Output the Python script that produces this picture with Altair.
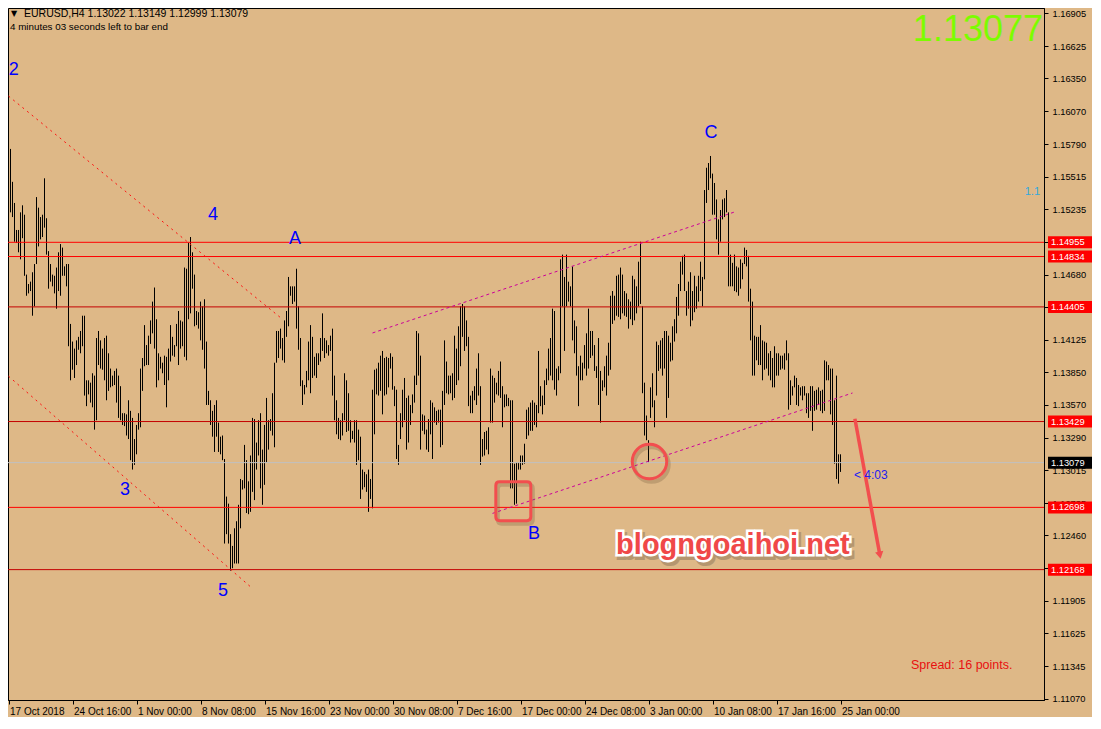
import altair as alt
import pandas as pd

# ---------------- data (EURUSD H4) ----------------
HIGHS = [
    1.1578, 1.1575, 1.1547, 1.1529, 1.1506, 1.1506, 1.1521, 1.1527, 1.1519, 1.1468,
    1.1460, 1.1462, 1.1470, 1.1477, 1.1534, 1.1525, 1.1517, 1.1519, 1.1550, 1.1516,
    1.1488, 1.1477, 1.1468, 1.1467, 1.1474, 1.1487, 1.1494, 1.1491, 1.1475, 1.1477,
    1.1477, 1.1426, 1.1411, 1.1405, 1.1412, 1.1415, 1.1420, 1.1433, 1.1433, 1.1378,
    1.1378, 1.1376, 1.1384, 1.1382, 1.1414, 1.1420, 1.1412, 1.1405, 1.1414, 1.1416,
    1.1401, 1.1388, 1.1382, 1.1386, 1.1388, 1.1382, 1.1373, 1.1350, 1.1350, 1.1349,
    1.1361, 1.1352, 1.1346, 1.1328, 1.1340, 1.1350, 1.1388, 1.1397, 1.1425, 1.1408,
    1.1416, 1.1429, 1.1445, 1.1457, 1.1430, 1.1401, 1.1398, 1.1393, 1.1399, 1.1398,
    1.1405, 1.1425,
    1.1415, 1.1408, 1.1426, 1.1437, 1.1429, 1.1428, 1.1474, 1.1473,
    1.1495, 1.1500, 1.1487, 1.1468, 1.1437, 1.1436, 1.1445, 1.1441, 1.1447, 1.1411,
    1.1369, 1.1361, 1.1352, 1.1357, 1.1361, 1.1342, 1.1330, 1.1331, 1.1311, 1.1279,
    1.1273, 1.1247, 1.1237, 1.1252, 1.1258, 1.1272, 1.1294, 1.1293, 1.1323, 1.1310,
    1.1292, 1.1314, 1.1346, 1.1345, 1.1325, 1.1344, 1.1350, 1.1319, 1.1340, 1.1363,
    1.1344, 1.1345, 1.1367, 1.1393, 1.1420, 1.1420, 1.1422, 1.1414, 1.1429, 1.1437,
    1.1466, 1.1458, 1.1458, 1.1458, 1.1473, 1.1441, 1.1414, 1.1378, 1.1374, 1.1386,
    1.1411, 1.1425, 1.1415, 1.1398, 1.1401, 1.1401, 1.1414, 1.1435, 1.1414, 1.1412,
    1.1408, 1.1416, 1.1422,
    1.1382, 1.1361, 1.1346, 1.1344, 1.1350, 1.1384, 1.1378,
    1.1367, 1.1344, 1.1335, 1.1344, 1.1344, 1.1336, 1.1330, 1.1302, 1.1300, 1.1298,
    1.1302, 1.1294, 1.1370, 1.1387, 1.1388, 1.1393, 1.1399, 1.1403, 1.1397, 1.1398,
    1.1397, 1.1401, 1.1398, 1.1373, 1.1370, 1.1323, 1.1350, 1.1370, 1.1380, 1.1363,
    1.1365, 1.1357, 1.1366, 1.1382, 1.1420, 1.1418, 1.1399, 1.1349, 1.1348, 1.1336,
    1.1345, 1.1361, 1.1359, 1.1355, 1.1352, 1.1353, 1.1353, 1.1369, 1.1412, 1.1394,
    1.1382, 1.1382, 1.1384, 1.1416, 1.1405, 1.1424, 1.1441, 1.1443, 1.1441, 1.1429,
    1.1415, 1.1365, 1.1369, 1.1373, 1.1388, 1.1401, 1.1373, 1.1328, 1.1334, 1.1335,
    1.1338, 1.1388, 1.1382, 1.1380, 1.1376, 1.1386, 1.1394,
    1.1373, 1.1366, 1.1366,
    1.1363, 1.1361, 1.1361, 1.1307, 1.1308, 1.1308, 1.1314, 1.1314, 1.1324, 1.1353,
    1.1355, 1.1359, 1.1361, 1.1359, 1.1357, 1.1403, 1.1373, 1.1365, 1.1378, 1.1388,
    1.1405, 1.1414, 1.1439, 1.1437, 1.1388, 1.1390, 1.1481, 1.1485, 1.1466, 1.1485,
    1.1462, 1.1458, 1.1475, 1.1429, 1.1424, 1.1390, 1.1399, 1.1393, 1.1408, 1.1418,
    1.1439, 1.1420, 1.1420, 1.1408, 1.1390, 1.1414, 1.1386, 1.1378, 1.1390, 1.1399,
    1.1410, 1.1450, 1.1454, 1.1450, 1.1467, 1.1468, 1.1474, 1.1468, 1.1454, 1.1452,
    1.1447, 1.1445, 1.1467, 1.1464, 1.1458, 1.1479, 1.1496, 1.1441, 1.1376, 1.1348,
    1.1327, 1.1372, 1.1384, 1.1361, 1.1411, 1.1408, 1.1412, 1.1414, 1.1420,
    1.1420, 1.1416, 1.1410, 1.1424, 1.1430, 1.1449, 1.1460, 1.1479, 1.1484, 1.1485, 1.1454,
    1.1462, 1.1470, 1.1454, 1.1467, 1.1458, 1.1467, 1.1479, 1.1466, 1.1540, 1.1559,
    1.1563, 1.1569, 1.1554, 1.1546, 1.1532, 1.1515, 1.1523, 1.1532, 1.1533, 1.1540,
    1.1521, 1.1485, 1.1478, 1.1485, 1.1475, 1.1474, 1.1481, 1.1478, 1.1491, 1.1489,
    1.1484, 1.1456, 1.1445, 1.1416, 1.1415, 1.1415, 1.1425, 1.1412, 1.1411, 1.1410,
    1.1401, 1.1403, 1.1397, 1.1407, 1.1401, 1.1401, 1.1399, 1.1399, 1.1401, 1.1412,
    1.1401, 1.1378, 1.1373, 1.1382, 1.1380, 1.1374, 1.1372, 1.1373, 1.1373, 1.1367,
    1.1367, 1.1373, 1.1373, 1.1369, 1.1370, 1.1372, 1.1369, 1.1370, 1.1395, 1.1394,
    1.1391, 1.1388, 1.1388, 1.1361, 1.1382, 1.1315, 1.1315,
]

LOWS = [
    1.1548, 1.1521, 1.1517, 1.1496, 1.1495, 1.1487, 1.1481, 1.1499, 1.1467, 1.1450,
    1.1452, 1.1454, 1.1433, 1.1441, 1.1477, 1.1492, 1.1498, 1.1500, 1.1508, 1.1485,
    1.1456, 1.1462, 1.1458, 1.1452, 1.1439, 1.1454, 1.1450, 1.1467, 1.1467, 1.1458,
    1.1407, 1.1378, 1.1387, 1.1380, 1.1391, 1.1404, 1.1401, 1.1407, 1.1365, 1.1356,
    1.1366, 1.1359, 1.1355, 1.1336, 1.1344, 1.1391, 1.1388, 1.1387, 1.1378, 1.1361,
    1.1369, 1.1372, 1.1373, 1.1374, 1.1359, 1.1346, 1.1344, 1.1340, 1.1339, 1.1331,
    1.1328, 1.1310, 1.1302, 1.1306, 1.1315, 1.1336, 1.1338, 1.1369, 1.1390, 1.1391,
    1.1391, 1.1409, 1.1418, 1.1405, 1.1372, 1.1378, 1.1388, 1.1384, 1.1374, 1.1355,
    1.1378, 1.1394,
    1.1399, 1.1398, 1.1407, 1.1391, 1.1405, 1.1407, 1.1398, 1.1395,
    1.1430, 1.1435, 1.1456, 1.1424, 1.1425, 1.1422, 1.1412, 1.1404, 1.1388, 1.1357,
    1.1357, 1.1340, 1.1330, 1.1317, 1.1330, 1.1317, 1.1315, 1.1310, 1.1239, 1.1247,
    1.1239, 1.1216, 1.1218, 1.1222, 1.1222, 1.1222, 1.1252, 1.1285, 1.1286, 1.1265,
    1.1264, 1.1266, 1.1283, 1.1276, 1.1302, 1.1314, 1.1286, 1.1272, 1.1289, 1.1308,
    1.1319, 1.1335, 1.1331, 1.1321, 1.1393, 1.1397, 1.1405, 1.1395, 1.1393, 1.1415,
    1.1424, 1.1450, 1.1443, 1.1445, 1.1422, 1.1404, 1.1373, 1.1357, 1.1366, 1.1372,
    1.1378, 1.1367, 1.1380, 1.1382, 1.1380, 1.1391, 1.1394, 1.1403, 1.1397, 1.1401,
    1.1399, 1.1403, 1.1365,
    1.1344, 1.1332, 1.1328, 1.1327, 1.1331, 1.1344, 1.1334,
    1.1335, 1.1325, 1.1328, 1.1325, 1.1306, 1.1310, 1.1277, 1.1285, 1.1287, 1.1283,
    1.1266, 1.1277, 1.1269, 1.1332, 1.1366, 1.1365, 1.1369, 1.1349, 1.1365, 1.1366,
    1.1372, 1.1388, 1.1370, 1.1356, 1.1311, 1.1306, 1.1328, 1.1338, 1.1344, 1.1319,
    1.1325, 1.1340, 1.1350, 1.1359, 1.1374, 1.1382, 1.1319, 1.1335, 1.1332, 1.1319,
    1.1317, 1.1332, 1.1311, 1.1342, 1.1340, 1.1342, 1.1321, 1.1323, 1.1357, 1.1367,
    1.1366, 1.1367, 1.1361, 1.1363, 1.1374, 1.1378, 1.1390, 1.1415, 1.1403, 1.1407,
    1.1356, 1.1350, 1.1350, 1.1361, 1.1357, 1.1365, 1.1306, 1.1313, 1.1314, 1.1319,
    1.1315, 1.1342, 1.1342, 1.1359, 1.1366, 1.1365, 1.1363,
    1.1338, 1.1355, 1.1356,
    1.1356, 1.1286, 1.1286, 1.1272, 1.1273, 1.1302, 1.1302, 1.1306, 1.1307, 1.1328,
    1.1331, 1.1335, 1.1335, 1.1340, 1.1338, 1.1350, 1.1356, 1.1349, 1.1357, 1.1374,
    1.1378, 1.1382, 1.1378, 1.1370, 1.1365, 1.1378, 1.1384, 1.1441, 1.1403, 1.1441,
    1.1445, 1.1441, 1.1412, 1.1401, 1.1382, 1.1356, 1.1378, 1.1378, 1.1388, 1.1382,
    1.1388, 1.1397, 1.1399, 1.1386, 1.1380, 1.1357, 1.1342, 1.1369, 1.1372, 1.1365,
    1.1382, 1.1387, 1.1426, 1.1429, 1.1433, 1.1432, 1.1430, 1.1435, 1.1433, 1.1432,
    1.1422, 1.1430, 1.1425, 1.1429, 1.1435, 1.1441, 1.1443, 1.1367, 1.1331, 1.1327,
    1.1308, 1.1346, 1.1355, 1.1338, 1.1365, 1.1386, 1.1388, 1.1382, 1.1388,
    1.1346, 1.1363, 1.1394, 1.1395, 1.1411, 1.1418, 1.1433, 1.1454, 1.1468, 1.1454, 1.1433,
    1.1439, 1.1424, 1.1429, 1.1436, 1.1439, 1.1445, 1.1454, 1.1441, 1.1464, 1.1529,
    1.1540, 1.1550, 1.1519, 1.1519, 1.1498, 1.1485, 1.1496, 1.1515, 1.1517, 1.1521,
    1.1458, 1.1458, 1.1458, 1.1454, 1.1453, 1.1450, 1.1456, 1.1464, 1.1477, 1.1475,
    1.1445, 1.1412, 1.1382, 1.1382, 1.1395, 1.1391, 1.1391, 1.1378, 1.1387, 1.1388,
    1.1382, 1.1378, 1.1372, 1.1372, 1.1382, 1.1382, 1.1387, 1.1388, 1.1387, 1.1395,
    1.1353, 1.1357, 1.1365, 1.1372, 1.1357, 1.1356, 1.1365, 1.1361, 1.1365, 1.1350,
    1.1346, 1.1352, 1.1335, 1.1352, 1.1353, 1.1357, 1.1352, 1.1350, 1.1352, 1.1378,
    1.1378, 1.1349, 1.1340, 1.1307, 1.1294, 1.1290, 1.1300,
]

DATE_LABELS = ["17 Oct 2018", "24 Oct 16:00", "1 Nov 00:00", "8 Nov 08:00",
               "15 Nov 16:00", "23 Nov 00:00", "30 Nov 08:00", "7 Dec 16:00",
               "17 Dec 00:00", "24 Dec 08:00", "3 Jan 00:00", "10 Jan 08:00",
               "17 Jan 16:00", "25 Jan 00:00"]
BARS_PER_LABEL = 32

PRICE_TICKS = [1.16905, 1.16625, 1.16350, 1.16070, 1.15790, 1.15515, 1.15235,
               1.14955, 1.14680, 1.14405, 1.14125, 1.13850, 1.13570, 1.13290,
               1.13015, 1.12735, 1.12460, 1.12180, 1.11905, 1.11625, 1.11345,
               1.11070]

LEVELS_MAIN = [1.14955, 1.14834, 1.12698]
LEVELS_MINOR = [1.14405, 1.13429, 1.12168]
BID = 1.13079

RED_SEG = ["upper", "upper", "lower", "lower"]
RED_K = [0, 137, 0, 121]
RED_P = [1.16200, 1.14300, 1.13815, 1.12022]

MAG_SEG = ["upper", "upper", "lower", "lower"]
MAG_K = [182, 363, 242, 422]
MAG_P = [1.14183, 1.15213, 1.12647, 1.13672]

WAVE_TEXT = ["2", "4", "A", "3", "5", "B", "C"]
WAVE_K = [2.6, 102.2, 143.2, 58.2, 107.2, 262.7, 351.2]
WAVE_P = [1.16425, 1.15187, 1.14985, 1.12847, 1.11988, 1.12468, 1.15886]

SQUARE_K, SQUARE_P = [252.4], [1.12750]
CIRCLE_K, CIRCLE_P = [320.5], [1.13088]

ARROW_K = [423.2, 435.7]
ARROW_P = [1.13453, 1.12291]

WATERMARK = "blogngoaihoi.net"
WATERMARK_K, WATERMARK_P = [362.2], [1.12375]

COUNTDOWN = "< 4:03"
COUNTDOWN_K, COUNTDOWN_P = [422.7], [1.12974]

HEADER_1 = "EURUSD,H4  1.13022 1.13149 1.12999 1.13079"
HEADER_2 = "4 minutes 03 seconds left to bar end"
BIG_PRICE = "1.13077"
FIB_TEXT = "1.1"
SPREAD_TEXT = "Spread: 16 points."

# ---------------- chart ----------------
W, H = 1036, 692
BG = "#DEB887"
FONT = "Liberation Sans"

n = min(len(HIGHS), len(LOWS))
bars = pd.DataFrame({"k": list(range(n)), "high": HIGHS[:n], "low": LOWS[:n]})

xs = alt.Scale(domain=[-0.25, 517.75], nice=False, zero=False)
ys = alt.Scale(domain=[1.11058, 1.16950], nice=False, zero=False)

date_ticks = [i * BARS_PER_LABEL for i in range(len(DATE_LABELS))]
label_expr = ("[" + ",".join("'" + s + "'" for s in DATE_LABELS) + "]"
              + f"[round(datum.value / {BARS_PER_LABEL})]")

X_AXIS = alt.Axis(
    values=date_ticks, labelExpr=label_expr, title=None, grid=False, orient="bottom",
    tickSize=4, tickColor="black", domainColor="black", labelColor="black",
    labelFont=FONT, labelFontSize=10, labelAlign="left", labelPadding=2, labelOffset=1,
    labelFlush=False, labelOverlap=False, labelBound=False)
Y_AXIS = alt.Axis(
    values=PRICE_TICKS, format=".5f", title=None, grid=False, orient="right",
    tickSize=4, tickColor="black", domainColor="black", labelColor="black",
    labelFont=FONT, labelFontSize=9.3, labelPadding=4,
    labelFlush=False, labelOverlap=False, labelBound=False)


def X(field="k"):
    return alt.X(f"{field}:Q", scale=xs, axis=X_AXIS, title=None)


def Y(field="price"):
    return alt.Y(f"{field}:Q", scale=ys, axis=Y_AXIS, title=None)


bar_layer = alt.Chart(bars).mark_rule(color="black", strokeWidth=1).encode(
    x=X("k"), y=Y("low"), y2="high:Q")

# horizontal levels
lvl_main = alt.Chart(pd.DataFrame({"price": LEVELS_MAIN})).mark_rule(
    color="#FF0000", strokeWidth=1).encode(y=Y())
lvl_minor = alt.Chart(pd.DataFrame({"price": LEVELS_MINOR})).mark_rule(
    color="#C40000", strokeWidth=1).encode(y=Y())
bid_line = alt.Chart(pd.DataFrame({"price": [BID]})).mark_rule(
    color="#C0C0C0", strokeWidth=1).encode(y=Y())

red_trend = alt.Chart(pd.DataFrame({"seg": RED_SEG, "k": RED_K, "price": RED_P})).mark_line(
    color="#FF1010", strokeWidth=1, strokeDash=[2, 4]).encode(x=X(), y=Y(), detail="seg:N")
mag_trend = alt.Chart(pd.DataFrame({"seg": MAG_SEG, "k": MAG_K, "price": MAG_P})).mark_line(
    color="#CC0099", strokeWidth=1, strokeDash=[3, 3]).encode(x=X(), y=Y(), detail="seg:N")

waves = alt.Chart(pd.DataFrame({"t": WAVE_TEXT, "k": WAVE_K, "price": WAVE_P})).mark_text(
    color="#0000FF", font=FONT, fontSize=18, align="center", baseline="middle").encode(
    x=X(), y=Y(), text="t:N")

ROUND_SQ = ("M-0.78,-1.11 L0.78,-1.11 Q1,-1.11 1,-0.89 L1,0.89 Q1,1.11 0.78,1.11 "
            "L-0.78,1.11 Q-1,1.11 -1,0.89 L-1,-0.89 Q-1,-1.11 -0.78,-1.11 Z")
sq_df = pd.DataFrame({"k": SQUARE_K, "price": SQUARE_P})
ci_df = pd.DataFrame({"k": CIRCLE_K, "price": CIRCLE_P})
sq_shadow = alt.Chart(sq_df).mark_point(
    shape=ROUND_SQ, size=1225, filled=False, stroke="#7a6040", strokeWidth=4,
    opacity=0.3, xOffset=2, yOffset=3).encode(x=X(), y=Y())
sq = alt.Chart(sq_df).mark_point(
    shape=ROUND_SQ, size=1225, filled=False, stroke="#F24E4E", strokeWidth=3,
    opacity=1).encode(x=X(), y=Y())
ci_shadow = alt.Chart(ci_df).mark_point(
    shape="circle", size=1190, filled=False, stroke="#7a6040", strokeWidth=4,
    opacity=0.3, xOffset=2, yOffset=3).encode(x=X(), y=Y())
ci = alt.Chart(ci_df).mark_point(
    shape="circle", size=1190, filled=False, stroke="#F24E4E", strokeWidth=3,
    opacity=1).encode(x=X(), y=Y())

arrow_df = pd.DataFrame({"k": ARROW_K, "price": ARROW_P})
arrow_line = alt.Chart(arrow_df).mark_line(color="#F24E4E", strokeWidth=3.5).encode(x=X(), y=Y())
arrow_head = alt.Chart(arrow_df.tail(1)).mark_point(
    shape="triangle-down", size=70, filled=True, color="#F24E4E", opacity=1, angle=349).encode(
    x=X(), y=Y())

wm_df = pd.DataFrame({"t": [WATERMARK], "k": WATERMARK_K, "price": WATERMARK_P})
wm_shadow = alt.Chart(wm_df).mark_text(
    font=FONT, fontSize=29, fontWeight="bold", color="#6b5a45", stroke="#6b5a45",
    strokeWidth=6, opacity=0.35, dx=2, dy=3, align="center", baseline="middle").encode(
    x=X(), y=Y(), text="t:N")
wm_outline = alt.Chart(wm_df).mark_text(
    font=FONT, fontSize=29, fontWeight="bold", color="white", stroke="white",
    strokeWidth=5, align="center", baseline="middle").encode(x=X(), y=Y(), text="t:N")
wm_text = alt.Chart(wm_df).mark_text(
    font=FONT, fontSize=29, fontWeight="bold", color="#F04848", align="center",
    baseline="middle").encode(x=X(), y=Y(), text="t:N")

countdown = alt.Chart(pd.DataFrame({"t": [COUNTDOWN], "k": COUNTDOWN_K, "price": COUNTDOWN_P})).mark_text(
    font=FONT, fontSize=12, color="#2020F0", align="left", baseline="middle").encode(
    x=X(), y=Y(), text="t:N")

# price labels on the right scale
box_prices = LEVELS_MAIN + LEVELS_MINOR + [BID]
box_kind = ["level"] * (len(LEVELS_MAIN) + len(LEVELS_MINOR)) + ["bid"]
box_df = pd.DataFrame({"price": box_prices, "kind": box_kind,
                       "label": [f"{p:.5f}" for p in box_prices]})
boxes = alt.Chart(box_df).mark_tick(orient="horizontal", size=44, thickness=12, opacity=1).encode(
    x=alt.value(W + 26), y=Y(),
    color=alt.Color("kind:N", scale=alt.Scale(domain=["level", "bid"], range=["#FF0000", "#000000"]),
                    legend=None))
box_text = alt.Chart(box_df).mark_text(
    font=FONT, fontSize=9.3, color="white", align="left", baseline="middle").encode(
    x=alt.value(W + 7), y=Y(), text="label:N")


# fixed screen texts
def screen_text(txt, x, y, **kw):
    return alt.Chart(pd.DataFrame({"t": [txt]})).mark_text(**kw).encode(
        x=alt.value(x), y=alt.value(y), text="t:N")


hdr_tri = screen_text("\u25BC", 6, 6, font="DejaVu Sans", fontSize=8, color="black",
                      align="center", baseline="middle")
hdr_1 = screen_text(HEADER_1, 16, 6, font=FONT, fontSize=10.5, color="black",
                    align="left", baseline="middle")
hdr_2 = screen_text(HEADER_2, 2, 19, font=FONT, fontSize=9.8, color="black",
                    align="left", baseline="middle")
big = screen_text(BIG_PRICE, W - 1, 33, font=FONT, fontSize=36, color="#7CFC00",
                  align="right", baseline="alphabetic")
fib = screen_text(FIB_TEXT, W - 4, 184, font=FONT, fontSize=11, color="#33A8DD",
                  align="right", baseline="middle")
spread = screen_text(SPREAD_TEXT, W - 133, 657, font=FONT, fontSize=12.5, color="#E81010",
                     align="left", baseline="middle")

chart = alt.layer(
    bar_layer, bid_line, lvl_minor, lvl_main, red_trend, mag_trend,
    waves, sq_shadow, sq, ci_shadow, ci, arrow_line, arrow_head,
    wm_shadow, wm_outline, wm_text, countdown, boxes, box_text,
    hdr_tri, hdr_1, hdr_2, big, fib, spread,
).properties(
    width=W, height=H, background=BG,
    padding={"left": 0, "top": 0, "right": 48, "bottom": 17},
    autosize=alt.AutoSizeParams(type="none"),
).configure_view(stroke="black", strokeWidth=1, fill=BG)

chart.save("out.html", embed_options={"renderer": "svg", "actions": False})
